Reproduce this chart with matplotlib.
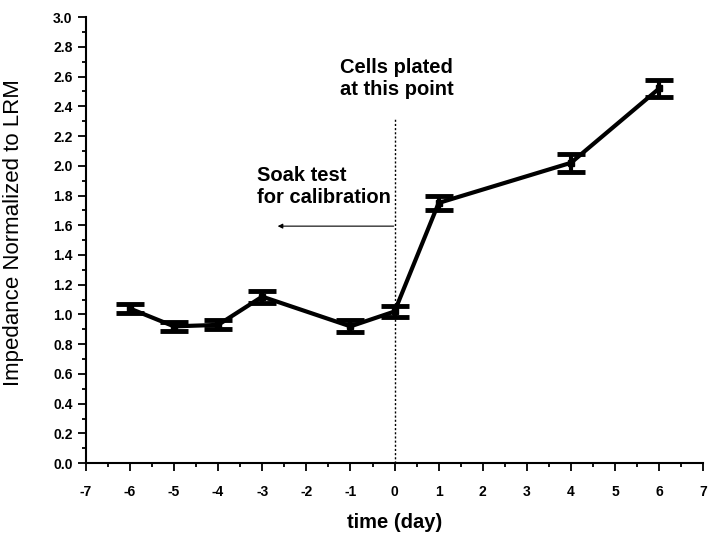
import numpy as np
import matplotlib.pyplot as plt
from matplotlib.ticker import MultipleLocator

# impedance readings, normalized to LRM
days = [-6, -5, -4, -3, -1, 0, 1, 4, 6]
impedance = [1.04, 0.92, 0.93, 1.12, 0.92, 1.02, 1.75, 2.02, 2.52]
err = [0.03, 0.03, 0.03, 0.04, 0.04, 0.04, 0.05, 0.06, 0.06]

plt.rcParams['font.family'] = ['Liberation Sans', 'DejaVu Sans']
plt.rcParams['axes.unicode_minus'] = False

fig = plt.figure(figsize=(7.09, 5.33), dpi=100)
ax = fig.add_axes([0.121, 0.131, 0.871, 0.837])

ax.errorbar(days, impedance, yerr=err, color='k', lw=3, marker='s', ms=5,
            elinewidth=3, capsize=10, capthick=3.5)

# plating marker at day 0
ax.plot([0, 0], [0, 2.32], color='k', lw=1, ls=(0, (1.5, 1.5)))

ax.text(-1.24, 2.59, 'Cells plated\nat this point', fontsize=14.5, fontweight='bold',
        ha='left', va='center', linespacing=1.2)
ax.text(-3.12, 1.86, 'Soak test\nfor calibration', fontsize=14.5, fontweight='bold',
        ha='left', va='center', linespacing=1.2)
ax.annotate('', xy=(-2.65, 1.594), xytext=(-0.02, 1.594),
            arrowprops=dict(arrowstyle='-|>', color='k', lw=0.8, mutation_scale=7,
                            shrinkA=0, shrinkB=0))

ax.set_xlim(-7, 7)
ax.set_ylim(0, 3.0)
ax.xaxis.set_major_locator(MultipleLocator(1))
ax.xaxis.set_minor_locator(MultipleLocator(0.5))
ax.yaxis.set_major_locator(MultipleLocator(0.2))
ax.yaxis.set_minor_locator(MultipleLocator(0.1))
ax.yaxis.set_major_formatter(lambda v, p: f'{v:.1f}')

for s in ['top', 'right']:
    ax.spines[s].set_visible(False)
for s in ['left', 'bottom']:
    ax.spines[s].set_linewidth(1.5)

ax.tick_params(which='major', length=6, width=1.3, labelsize=10)
ax.tick_params(axis='x', which='major', pad=10)
ax.tick_params(which='minor', length=3, width=1.3)
for lbl in ax.get_xticklabels() + ax.get_yticklabels():
    lbl.set_fontweight('bold')

ax.set_xlabel('time (day)', fontsize=14.5, fontweight='bold', labelpad=10)
ax.set_ylabel('Impedance Normalized to LRM', fontsize=16)
ax.yaxis.set_label_coords(-0.1, 0.518)

fig.savefig('out.png', dpi=100)
